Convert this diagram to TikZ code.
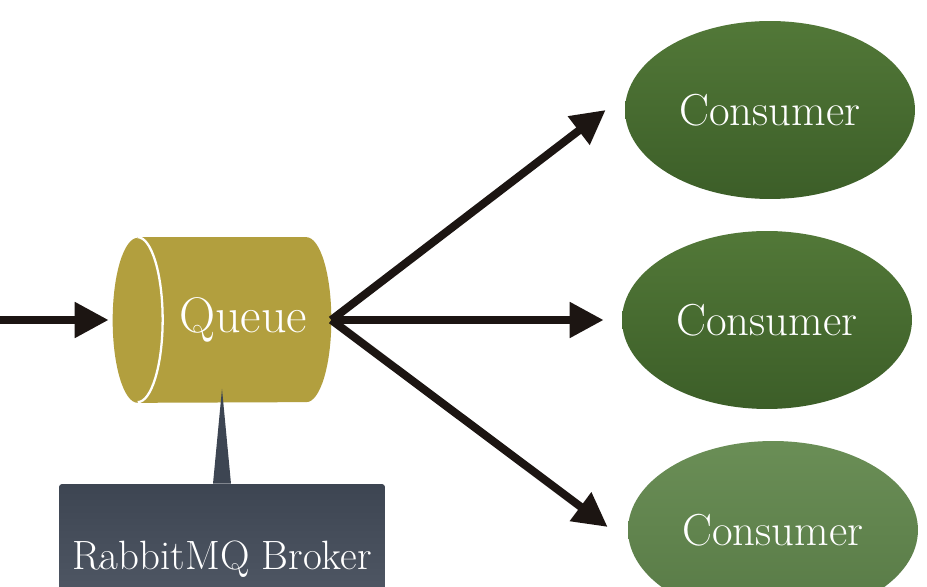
\documentclass[tikz,border=0pt]{standalone}
\usetikzlibrary{arrows.meta,positioning,shapes.geometric}
\definecolor{queuegold}{HTML}{B29F3E}
\definecolor{brokertop}{HTML}{3D4552}
\definecolor{brokerbot}{HTML}{555D6A}
\definecolor{arrowdark}{HTML}{1C1512}
\tikzset{
	>={Triangle[length=0.68cm,width=0.68cm]},
	flow/.style={draw=arrowdark, line width=0.16cm, ->},
	queuebox/.style={
		rectangle,
		minimum width=4.36cm,
		minimum height=3.3cm,
		inner sep=0pt},
	label/.style={text=white, font=\fontsize{28.5}{32}\selectfont},
	consumer/.style={
		ellipse,
		minimum width=5.8cm,
		minimum height=3.56cm,
		text=white,
		font=\fontsize{25.5}{30}\selectfont},
	darkconsumer/.style={consumer, top color={rgb,255:red,82;green,120;blue,56}, bottom color={rgb,255:red,60;green,94;blue,40}},
	lightconsumer/.style={consumer, top color={rgb,255:red,106;green,142;blue,86}, bottom color={rgb,255:red,88;green,122;blue,70}},
	brokerbox/.style={
		rectangle,
		rounded corners=0.06cm,
		minimum width=6.52cm,
		minimum height=3cm,
		top color=brokertop, bottom color=brokerbot,
		text=white,
		font=\fontsize{23.3}{28}\selectfont},
}
\begin{document}
\begin{tikzpicture}[x=0.02cm, y=-0.02cm]
	% page frame
	\useasboundingbox (0,0) rectangle (927,587);
	\clip (0,0) rectangle (927,587);
	\fill[white] (0,0) rectangle (927,587);

	% the queue, drawn as a lying cylinder with its face to the left
	\node (queue) [queuebox] at (222,320) {};
	\fill[queuegold] ([xshift=0.5cm]queue.north west) -- ([xshift=-0.5cm]queue.north east)
		arc (90:-90:0.5cm and 1.65cm) -- ([xshift=0.5cm]queue.south west)
		arc (270:90:0.5cm and 1.65cm) -- cycle;
	\draw[white, line width=1.3pt] ([xshift=0.5cm]queue.north west)
		arc (90:-90:0.5cm and 1.65cm);
	\node (qlabel) [label] at ([xshift=0.42cm]queue.center) {Queue};

	% the broker box with its pointer up to the queue
	\node (broker) [brokerbox] at (222,559) {RabbitMQ Broker};
	\fill[brokertop] ([xshift=-0.18cm]broker.north) -- ([xshift=0.18cm]broker.north)
		-- ([yshift=0.28cm]queue.south) -- cycle;

	% consumers
	\node (c1) [darkconsumer] at (770,110) {Consumer};
	\node (c2) [darkconsumer] at (767,320) {Consumer};
	\node (c3) [lightconsumer] at (773,530) {Consumer};

	% messages in and out
	\coordinate (in) at (0,320);
	\draw[flow, shorten >=0.08cm] (in) -- (queue.west);
	\draw[flow] (queue.east) -- ([xshift=-0.38cm]c1.west);
	\draw[flow] (queue.east) -- ([xshift=-0.36cm]c2.west);
	\draw[flow] (queue.east) -- ([xshift=-0.4cm,yshift=0.06cm]c3.west);
\end{tikzpicture}
\end{document}
